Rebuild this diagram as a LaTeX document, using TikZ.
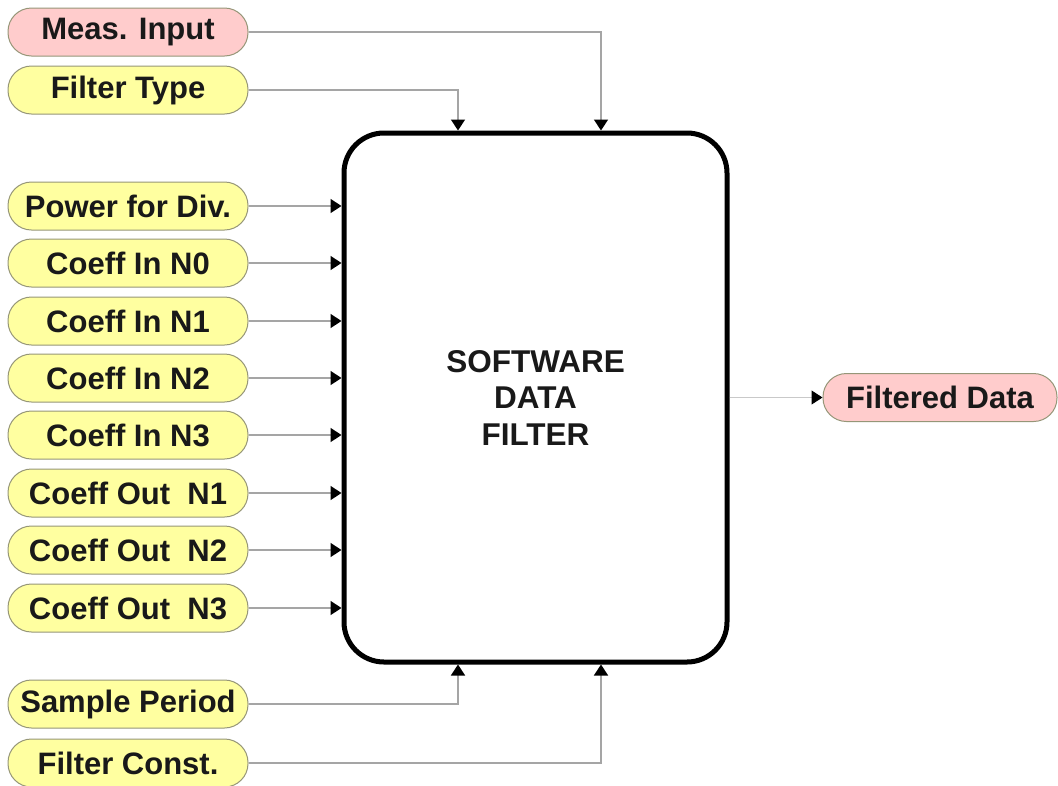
\documentclass[tikz,border=0pt]{standalone}
\usepackage{fontspec}
\setmainfont{Liberation Sans}
\usetikzlibrary{arrows.meta}
\definecolor{pillyellow}{RGB}{255,255,160}
\definecolor{pillpink}{RGB}{255,204,204}
\definecolor{pillborder}{RGB}{150,150,120}
\definecolor{conngray}{RGB}{165,165,165}
\definecolor{txt}{RGB}{25,25,25}
\begin{document}
\begin{tikzpicture}[x=1pt,y=-1pt,
  pill/.style={draw=pillborder, line width=1pt, rounded corners=23.5pt,
    minimum width=240pt, minimum height=48pt, inner sep=0pt,
    font=\fontsize{31}{36}\selectfont\bfseries, text=txt},
  ypill/.style={pill, fill=pillyellow},
  ppill/.style={pill, fill=pillpink},
  conn/.style={draw=conngray, line width=1.5pt,
    -{Triangle[length=11pt,width=14pt,black]}},
  oconn/.style={draw=conngray!60, line width=1pt,
    -{Triangle[length=11pt,width=14pt,black]}},
  mainbox/.style={draw=black, line width=5pt, rounded corners=40pt,
    minimum width=383pt, minimum height=529pt, align=center,
    font=\fontsize{31.5}{36.5}\selectfont\bfseries, text=txt}
]
\useasboundingbox (0,0) rectangle (1058,785);

\node[mainbox] (box) at (535.5,397.5) {SOFTWARE\\DATA\\FILTER};

\node[ppill] (meas) at (128,32) {Meas. Input};
\node[ypill] (ftype) at (128,90) {Filter Type};
\node[ypill] (pdiv) at (128,206) {Power for Div.};
\node[ypill] (cin0) at (128,263) {Coeff In N0};
\node[ypill] (cin1) at (128,321) {Coeff In N1};
\node[ypill] (cin2) at (128,378) {Coeff In N2};
\node[ypill] (cin3) at (128,435) {Coeff In N3};
\node[ypill] (cout1) at (128,493) {Coeff Out\ \ N1};
\node[ypill] (cout2) at (128,550) {Coeff Out\ \ N2};
\node[ypill] (cout3) at (128,608) {Coeff Out\ \ N3};
\node[ypill] (sper) at (128,704) {Sample Period};
\node[ypill] (fconst) at (128,763) {Filter Const.};
\node[ppill, minimum width=234pt] (fdata) at (940,397.5) {Filtered Data};

\coordinate (xa) at (458,0);
\coordinate (xb) at (601,0);

\draw[conn] (meas.east) -| (xb |- box.north);
\draw[conn] (ftype.east) -| (xa |- box.north);
\foreach \n in {pdiv,cin0,cin1,cin2,cin3,cout1,cout2,cout3}
  \draw[conn] (\n.east) -- (\n.east -| box.west);
\draw[conn] (sper.east) -| (xa |- box.south);
\draw[conn] (fconst.east) -| (xb |- box.south);
\draw[oconn] (box.east) -- (fdata.west);
\end{tikzpicture}
\end{document}
